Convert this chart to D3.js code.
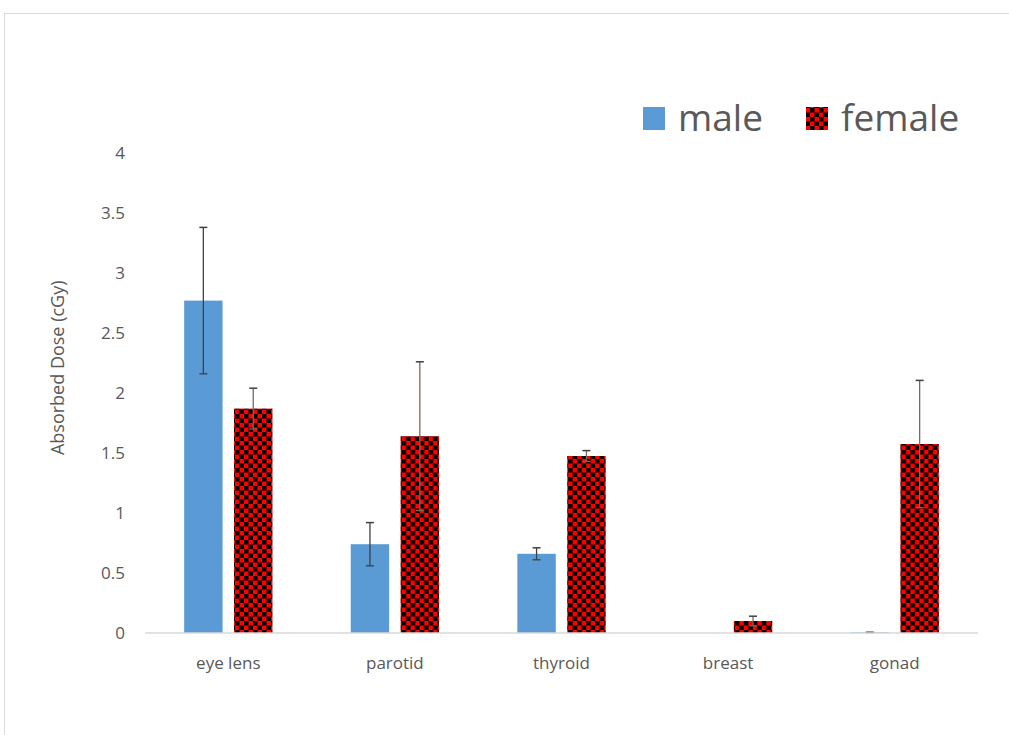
<!DOCTYPE html>
<html lang="en">
<head>
<meta charset="UTF-8">
<title>Absorbed Dose</title>
<script src="https://d3js.org/d3.v7.min.js"></script>
<style>
  body { margin: 0; background: #fff; }
  svg { display: block; font-family: "Open Sans", sans-serif; }
</style>
</head>
<body>
<script>
// data
const organs = ["eye lens", "parotid", "thyroid", "breast", "gonad"];
const maleDose = [2.77, 0.74, 0.66, 0, 0.005];
const maleErr = [0.61, 0.18, 0.05, 0, 0];
const femaleDose = [1.87, 1.64, 1.475, 0.1, 1.575];
const femaleErr = [0.17, 0.62, 0.045, 0.04, 0.53];
const yTicks = [0, 0.5, 1, 1.5, 2, 2.5, 3, 3.5, 4];
const seriesNames = ["male", "female"];

const W = 1009, H = 735;
const svg = d3.select("body").append("svg").attr("width", W).attr("height", H);

// checker pattern for female
const defs = svg.append("defs");
const pat = defs.append("pattern").attr("id", "checker")
  .attr("patternUnits", "userSpaceOnUse").attr("width", 9).attr("height", 9);
pat.append("rect").attr("width", 9).attr("height", 9).attr("fill", "#ff0000");
pat.append("rect").attr("width", 4.5).attr("height", 4.5).attr("fill", "#000");
pat.append("rect").attr("x", 4.5).attr("y", 4.5).attr("width", 4.5).attr("height", 4.5).attr("fill", "#000");

// chart frame
svg.append("rect").attr("x", 4.5).attr("y", 13.5).attr("width", W).attr("height", H)
  .attr("fill", "none").attr("stroke", "#d9d9d9");

const x0 = d3.scaleBand().domain(organs).range([145, 978]);
const x1 = d3.scaleBand().domain(seriesNames).range([x0.bandwidth() * 0.235, x0.bandwidth() * 0.765]).paddingInner(0.23);
const y = d3.scaleLinear().domain([0, 4]).range([633, 153]);

// y tick labels
svg.append("g").selectAll("text").data(yTicks).join("text")
  .attr("x", 125).attr("y", d => y(d)).attr("dy", "0.35em")
  .attr("text-anchor", "end").attr("fill", "#595959").attr("font-size", 17)
  .text(d => d);

svg.append("text")
  .attr("transform", `translate(64,${y(2.21)}) rotate(-90)`)
  .attr("text-anchor", "middle").attr("fill", "#595959").attr("font-size", 18)
  .text("Absorbed Dose (cGy)");

const rows = organs.map((o, i) => ({
  organ: o,
  vals: [
    { s: "male", v: maleDose[i], e: maleErr[i] },
    { s: "female", v: femaleDose[i], e: femaleErr[i] }
  ]
}));

const groups = svg.append("g").selectAll("g").data(rows).join("g")
  .attr("transform", d => `translate(${x0(d.organ)},0)`);

groups.selectAll("rect").data(d => d.vals).join("rect")
  .attr("x", d => x1(d.s)).attr("width", x1.bandwidth())
  .attr("y", d => y(d.v)).attr("height", d => y(0) - y(d.v))
  .attr("fill", d => d.s === "male" ? "#5b9bd5" : "url(#checker)");

// baseline
svg.append("line").attr("x1", 145).attr("x2", 978).attr("y1", y(0)).attr("y2", y(0))
  .attr("stroke", "#d9d9d9").attr("stroke-width", 1.5);

// error bars
const eb = groups.selectAll("g.err").data(d => d.vals.filter(v => v.v > 0)).join("g").attr("class", "err")
  .attr("transform", d => `translate(${x1(d.s) + x1.bandwidth() / 2},0)`);
eb.append("line").attr("y1", d => y(d.v + d.e)).attr("y2", d => y(d.v - d.e))
  .attr("stroke", d => d.s === "male" ? "#404040" : "#7a6a5a").attr("stroke-width", 1.3);
eb.append("line").attr("x1", -4).attr("x2", 4).attr("y1", d => y(d.v + d.e)).attr("y2", d => y(d.v + d.e))
  .attr("stroke", "#404040").attr("stroke-width", 1.5);
eb.append("line").attr("x1", -4).attr("x2", 4).attr("y1", d => y(d.v - d.e)).attr("y2", d => y(d.v - d.e))
  .attr("stroke", d => d.s === "male" ? "#404040" : "#7a6a5a").attr("stroke-width", 1.3);

// x labels
svg.append("g").selectAll("text").data(organs).join("text")
  .attr("x", d => x0(d) + x0.bandwidth() / 2).attr("y", 669)
  .attr("text-anchor", "middle").attr("fill", "#595959").attr("font-size", 17)
  .text(d => d);

// legend
const leg = svg.append("g").attr("font-size", 37).attr("fill", "#595959");
const legX = [643, 806];
seriesNames.forEach((s, i) => {
  leg.append("rect").attr("x", legX[i]).attr("y", 107).attr("width", 22).attr("height", 23)
    .attr("fill", s === "male" ? "#5b9bd5" : "url(#checker)");
  leg.append("text").attr("x", legX[i] + 35).attr("y", 131).text(s);
});
</script>
</body>
</html>
